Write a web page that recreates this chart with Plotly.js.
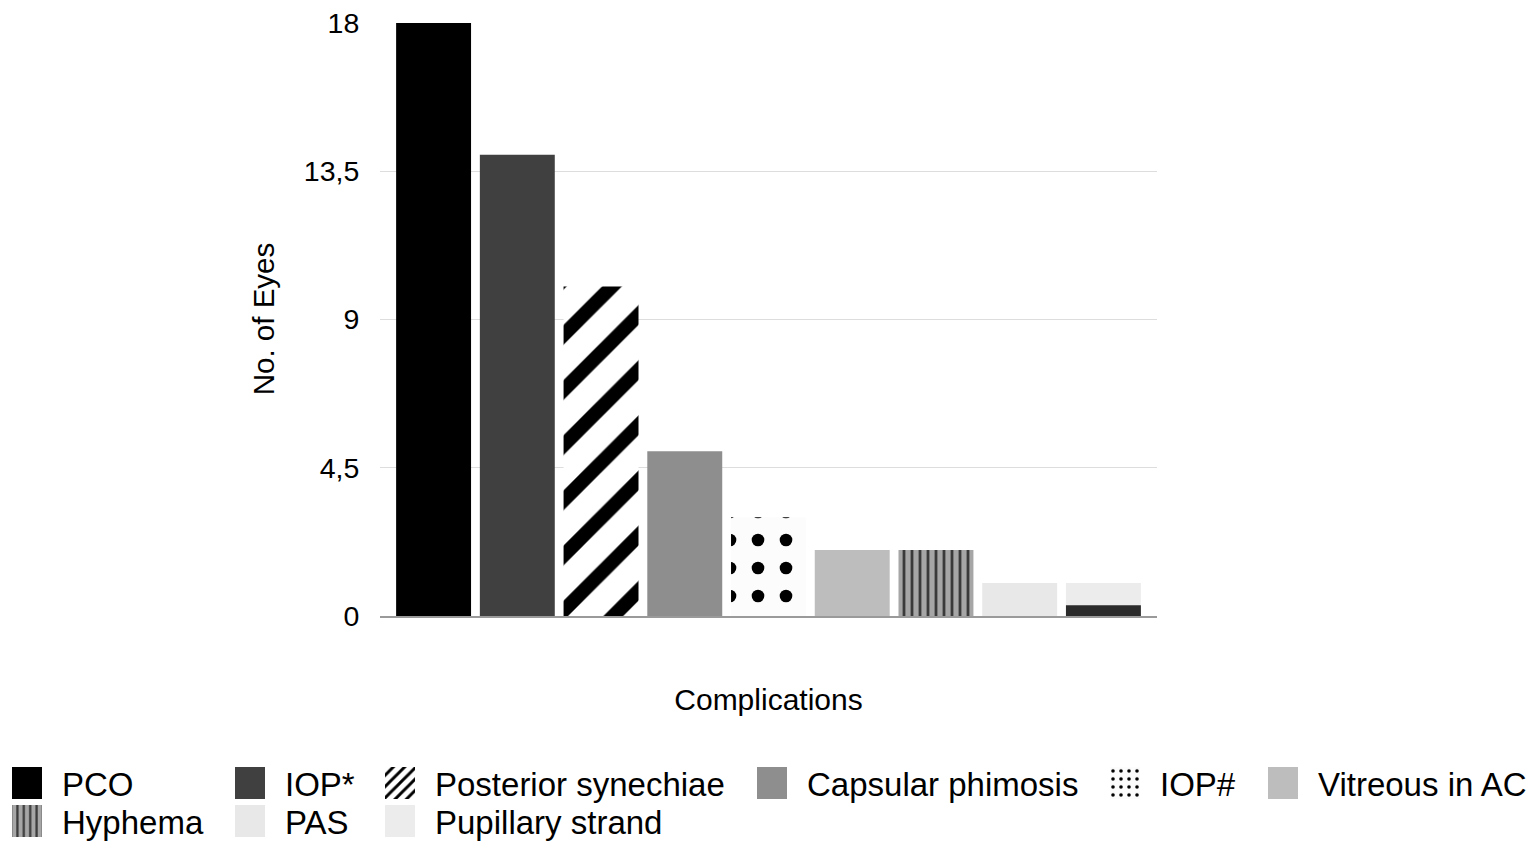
<!DOCTYPE html>
<html>
<head>
<meta charset="utf-8">
<script src="https://cdn.plot.ly/plotly-3.0.1.min.js"></script>
<style>
html,body{margin:0;padding:0;background:#fff;}
#chart{width:1535px;height:854px;}
path.strand-swatch{fill:url(#strandSwatch) !important;}
path.hatch-swatch{fill:url(#fineHatch) !important;}
</style>
</head>
<body>
<svg width="0" height="0" style="position:absolute;left:0;top:0">
  <defs>
    <linearGradient id="strandSwatch" x1="0" y1="0" x2="0" y2="1">
      <stop offset="0" stop-color="#f4f4f4"/><stop offset="0.62" stop-color="#e6e6e6"/>
      <stop offset="0.62" stop-color="#2b2b2b"/><stop offset="1" stop-color="#2b2b2b"/>
    </linearGradient>
    <pattern id="fineHatch" patternUnits="userSpaceOnUse" width="4" height="4">
      <rect width="4" height="4" fill="#d0d0d0"/>
      <path d="M-1,1 l2,-2 M0,4 l4,-4 M3,5 l2,-2" stroke="#3c3c3c" stroke-width="1.3"/>
    </pattern>
  </defs>
</svg>
<div id="chart"></div>
<script>
// ---- data ----
var categories = ['PCO', 'IOP*', 'Posterior synechiae', 'Capsular phimosis', 'IOP#', 'Vitreous in AC', 'Hyphema', 'PAS', 'Pupillary strand'];
var values = [18, 14, 10, 5, 3, 2, 2, 1, 1];
var strandBand = [0.33]; // dark lower band drawn inside the "Pupillary strand" bar
var yTicks = [0, 4.5, 9, 13.5, 18];

// ---- styles ----
var fills = [
  {color: '#000000'},
  {color: '#404040'},
  {color: '#ffffff', pattern: {shape: '/', fgcolor: '#000000', bgcolor: '#ffffff', size: 39, solidity: 0.36}},
  {color: '#8e8e8e'},
  {color: '#ffffff', pattern: {shape: '.', fgcolor: '#000000', bgcolor: '#fcfcfc', size: 28, solidity: 0.16}},
  {color: '#bdbdbd'},
  {color: '#a6a6a6', pattern: {shape: '|', fgcolor: '#3a3a3a', bgcolor: '#a6a6a6', size: 8, solidity: 0.35}},
  {color: '#e8e8e8'},
  {color: '#ececec'}
];
// legend slot of each category: [swatch left px, row centre px]
var legendSlots = [[12, 783], [235, 783], [385, 783], [757, 783], [1110, 783], [1268, 783],
                   [12, 821], [235, 821], [385, 821]];

// plot area in px (for placing legends in paper units)
var PL = 380, PR = 1157, PT = 22, PB = 616;

function legId(i) { return i === 0 ? 'legend' : 'legend' + (i + 1); }

var traces = categories.map(function (c, i) {
  var m = {color: fills[i].color, line: {width: 0}};
  if (fills[i].pattern) m.pattern = fills[i].pattern;
  return {
    type: 'bar', x: [c], y: [values[i]], name: c, marker: m,
    legend: legId(i), legendgroup: c, hoverinfo: 'x+y'
  };
});
traces.push({
  type: 'bar', x: [categories[8]], y: strandBand, name: categories[8],
  marker: {color: '#2b2b2b', line: {width: 0}}, showlegend: false,
  legend: legId(8), legendgroup: categories[8], hoverinfo: 'skip'
});

var FONT = 'Liberation Sans, Arial, Helvetica, sans-serif';
var legFont = {family: FONT, size: 33, color: '#000'};
function leg(slot) {
  return {
    xref: 'paper', yref: 'paper',
    x: (slot[0] - 20 - PL) / (PR - PL), y: (PB - slot[1]) / (PB - PT),
    xanchor: 'left', yanchor: 'middle', orientation: 'v', font: legFont,
    bgcolor: 'rgba(0,0,0,0)', borderwidth: 0, itemwidth: 60, tracegroupgap: 0
  };
}

var layout = {
  width: 1535, height: 854,
  margin: {l: PL, r: 1535 - PR, t: PT, b: 854 - PB, autoexpand: false},
  paper_bgcolor: '#ffffff', plot_bgcolor: '#ffffff',
  font: {family: FONT, color: '#000'},
  separators: ',.',
  barmode: 'overlay', bargap: 0.105,
  showlegend: true,
  xaxis: {
    type: 'category', categoryorder: 'array', categoryarray: categories,
    range: [-0.64, 8.64], showticklabels: false, ticks: '',
    showgrid: false, zeroline: false, showline: true, linecolor: '#9a9a9a', linewidth: 1.5,
    title: {text: 'Complications', font: {family: FONT, size: 30, color: '#000'}, standoff: 72}
  },
  yaxis: {
    range: [0, 18.03], tickvals: yTicks, ticks: 'outside', ticklen: 14, tickcolor: 'rgba(0,0,0,0)',
    showline: false, zeroline: false, automargin: true,
    gridcolor: '#dddddd', gridwidth: 1.3,
    tickfont: {family: FONT, size: 28.5, color: '#000'},
    title: {text: 'No. of Eyes', font: {family: FONT, size: 29.5, color: '#000'}, standoff: 20}
  }
};
categories.forEach(function (c, i) { layout[legId(i)] = leg(legendSlots[i]); });

function styleLegend() {
  // enlarge legend swatches to the reference's square size and give two of them the reference's textures
  document.querySelectorAll('#chart g.traces').forEach(function (g) {
    var p = g.querySelector('g.legendpoints path');
    if (!p) return;
    p.setAttribute('d', 'M15,16H-15V-16H15Z');
    var t = g.querySelector('text.legendtext');
    var name = t ? t.textContent : '';
    if (name === categories[8]) p.classList.add('strand-swatch');
    if (name === categories[2]) p.classList.add('hatch-swatch');
  });
}

var gd = document.getElementById('chart');
Plotly.newPlot(gd, traces, layout, {displayModeBar: false, staticPlot: true}).then(function () {
  styleLegend();
  gd.on('plotly_afterplot', styleLegend);
  setTimeout(styleLegend, 200);
});
</script>
</body>
</html>
